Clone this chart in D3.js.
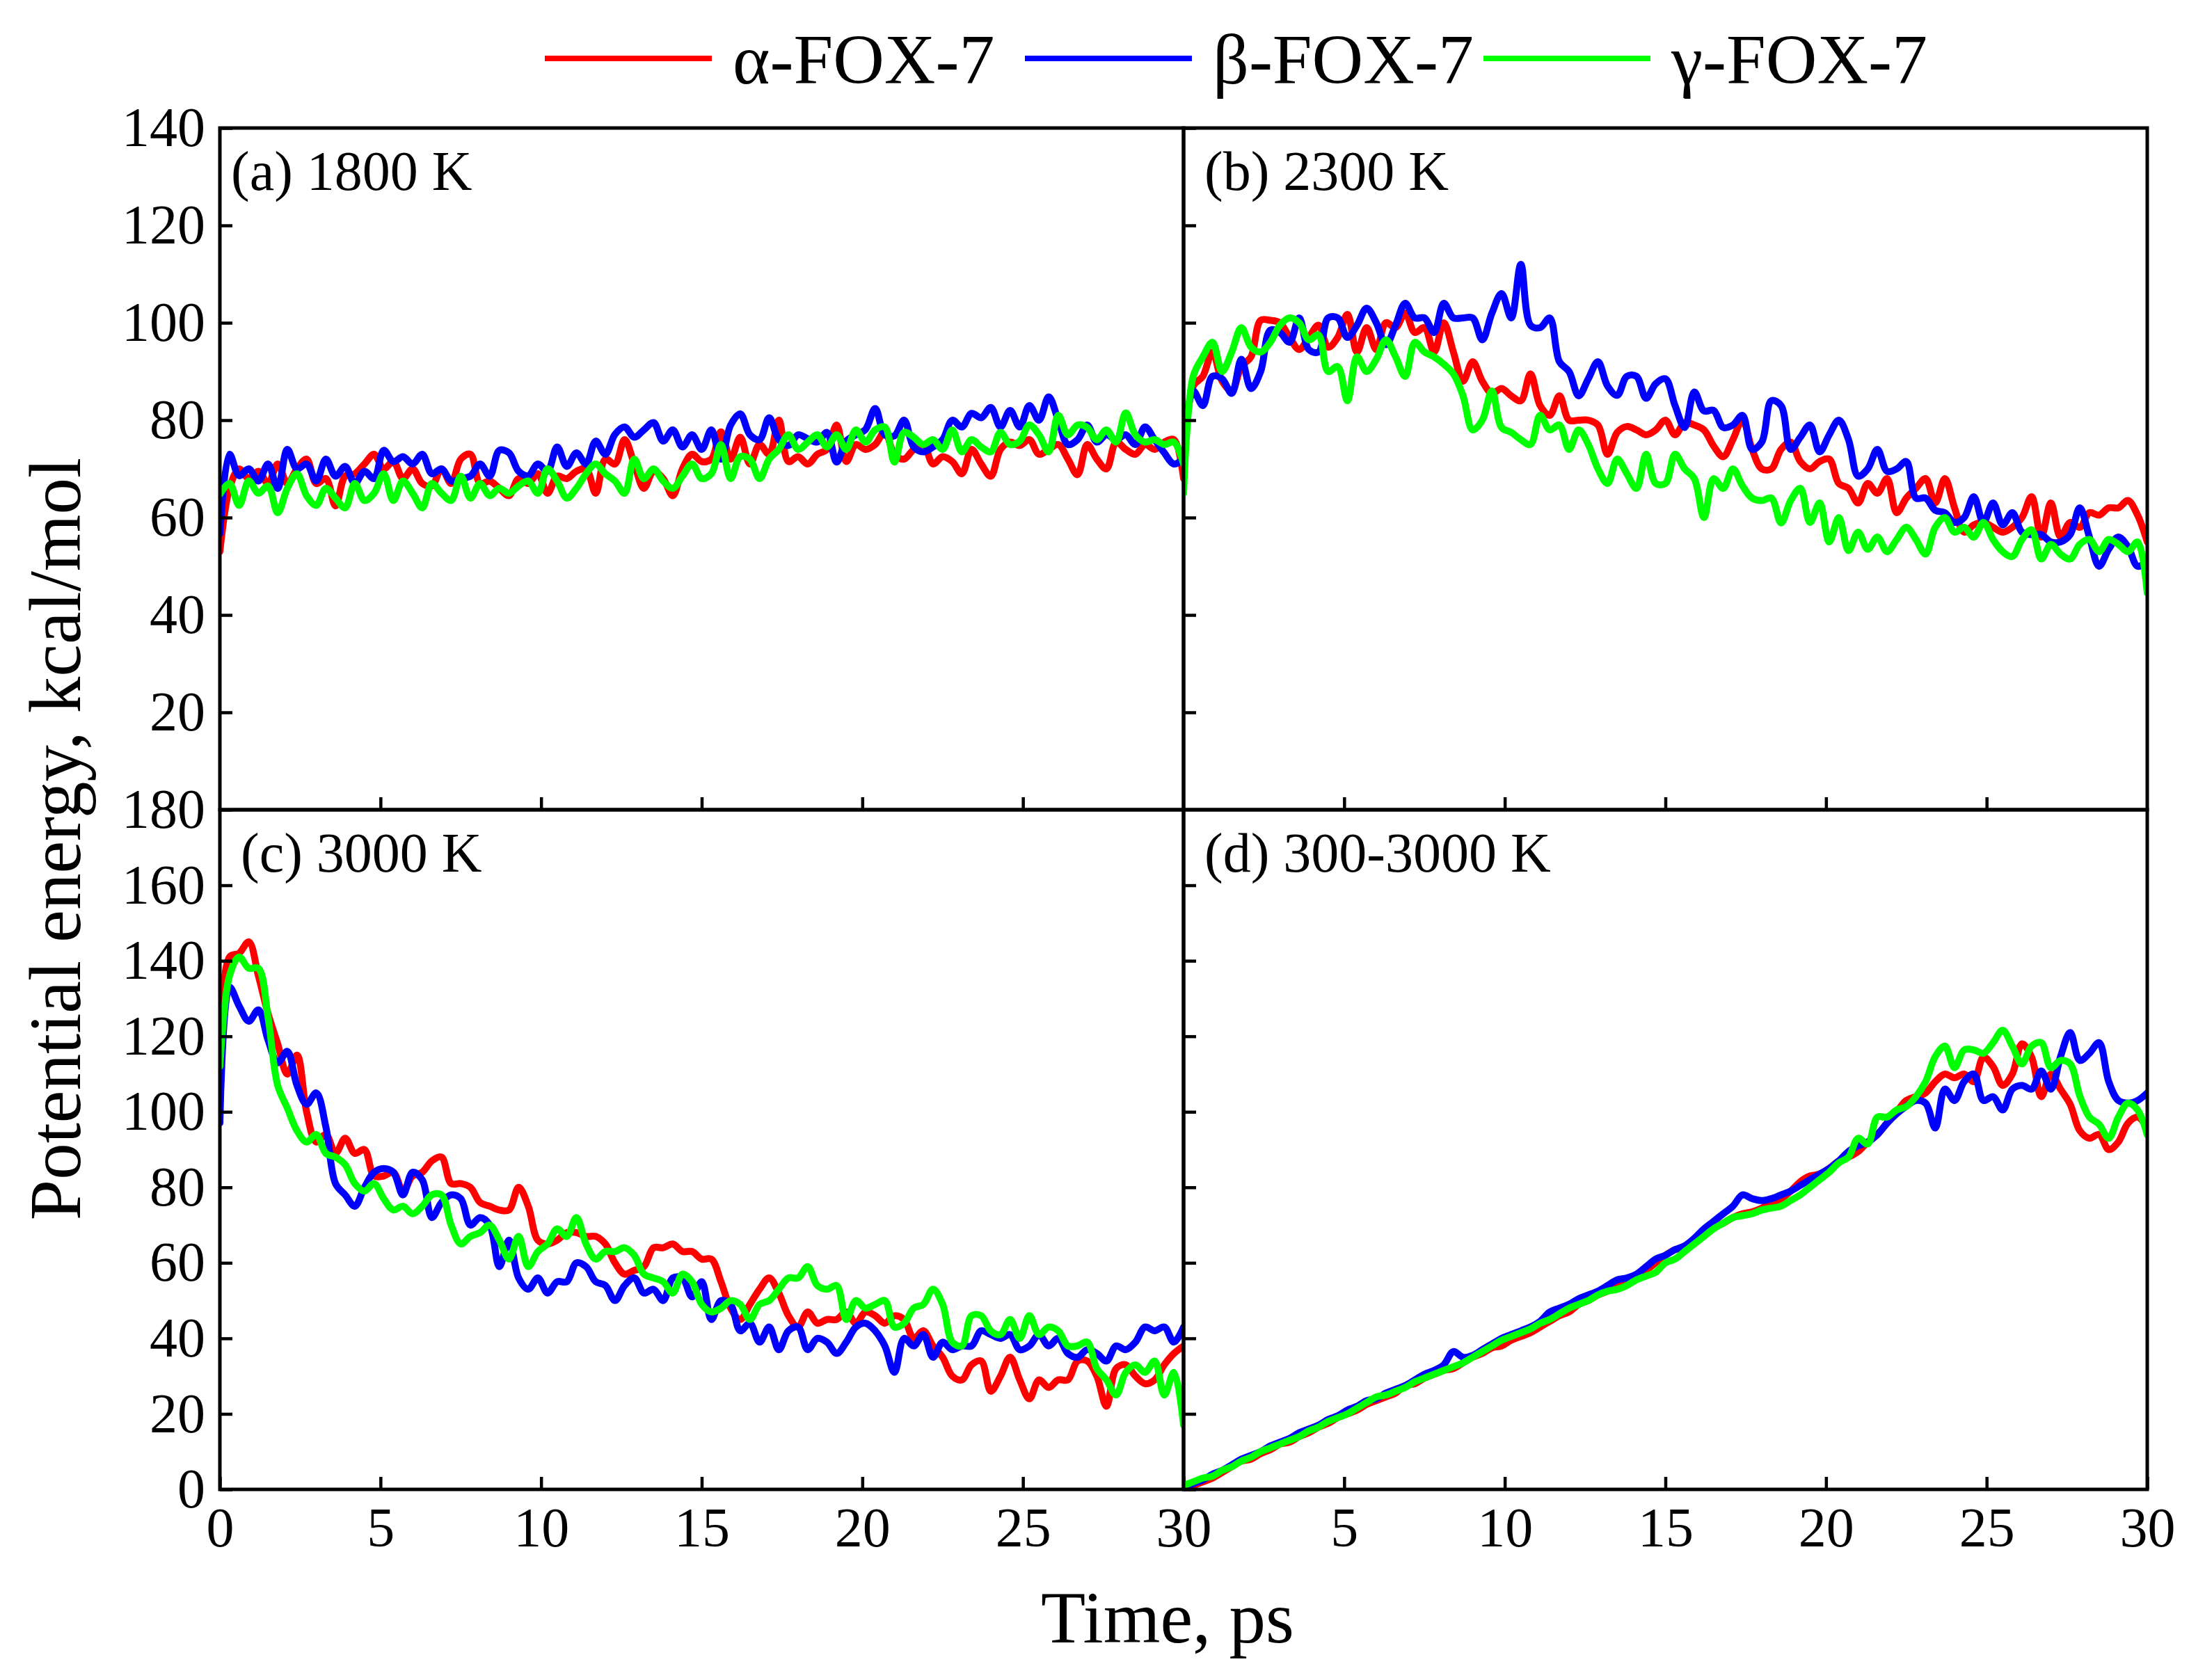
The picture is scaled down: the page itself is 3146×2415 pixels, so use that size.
<!DOCTYPE html>
<html><head><meta charset="utf-8">
<script src="https://cdn.jsdelivr.net/npm/d3@7"></script>
<style>
body{margin:0;background:#fff}
svg{display:block}
text{font-family:"Liberation Serif","Times New Roman",Times,serif;fill:#000}
</style>
</head><body>
<svg id="chart" width="3146" height="2415"></svg>
<script>
// ---------- data ----------
const seriesNames = ["α-FOX-7", "β-FOX-7", "γ-FOX-7"];
const panelLabels = ["(a) 1800 K", "(b) 2300 K", "(c) 3000 K", "(d) 300-3000 K"];
const timeStepPs = 0.3; // sampling of the read-off curves
const xTicks = [0, 5, 10, 15, 20, 25, 30];
const yTicksTop = [0, 20, 40, 60, 80, 100, 120, 140];
const yTicksBottom = [0, 20, 40, 60, 80, 100, 120, 140, 160, 180];

// (a) 1800 K
const a_alpha = [53,66,70,68,69.5,67,71,67,70,72, 67,68,62.4,68.5,69,71,73,70,71.5,68, 70,67,66.5,70,67,72,73,67,67.5,66, 64.5,68,67,69,65,68.5,68,69.5,70,65, 72,71,76,71,66,69.5,68,64.5,70,73, 71.5,72,77.6,72,76.5,71,75,73,80,71.5, 72.5,71,73,74,79,71.5,75,74,75,77.6, 73,72,74,75,71,72.5,71.5,69,74,71, 68.5,74,75.5,74.8,76,73,74,75,72,68.8, 75,72,70,75.5,74,73,75,74,75.5,76, 68];
const a_beta = [56.7,73,68.6,70,67.5,71,66,74,70,71, 67.5,72,68.5,70.5,67,69.5,68,73.8,71.5,72.5, 71,73,69,70,67.5,68,68.5,71,68.5,73.8, 73.3,69.5,68.6,71,69.5,74.5,70.5,73.3,71,75.7, 73,77.1,78.6,76.5,78,79.5,75.7,78,74.5,77, 74,78,72,79,81.3,77,76,80.5,76,74.8, 77,76.2,75.5,77.5,71.4,75.7,77,78.1,82.4,77, 76.8,80,74.5,73.5,74.5,76,80,78.6,81.4,80.5, 82.6,78.6,82,78.6,83,80,84.8,80,75,76, 79,75.5,77,76,77,75,78.6,76,73.3,71, 72];
const a_gamma = [64.8,67,62.5,67.5,65,66.5,61,66,69,64.5, 62.5,66,64,62,67,63.5,65,69,63.5,67.5, 65,62,67,65,63.5,68.5,64,67,64.5,66, 65,66.5,67.5,65,70,67.5,64,66,69,71, 69,67.5,65,72,68,70,67.5,66,68.5,71, 68,69,75,68,72.5,72,68,72,74,77, 74,75.5,77,74.5,77,74,78,75.5,78,78.6, 71.4,77.5,76.5,75,76,74,78,73.5,76,74.5, 73.5,77.5,75,75.7,79,77,73.5,81,77,79, 78.5,76,78,75.5,81.5,77,75.5,76,75,75.5, 71];

// (b) 2300 K
const b_alpha = [68.5,87,89,94,88,86,91,93,100.5,100.5, 100,97,94.5,97,99.5,95,97,101.7,94,99, 94.5,100,99,102,98,99,94,100,94,88, 92,88,85.5,86.5,85,84,89.5,83,81,85, 80,80,80,79,73,77.5,78.7,78,77,78, 80,77,79.5,79,78,74.7,72.5,76,80,74, 70,70,74,75.5,71.5,70,71.5,72,67,66, 63,67,65,68,61,64,66,68,63,68, 62,57,58.5,59,58,57,58,60,64.3,56, 63,56,59,58,61,60.5,62,62,63.5,60.5, 55];
const b_beta = [74,86,83,89,88.5,85.5,92.5,86.5,90,98.5, 98,96,101,94.5,94,101,101,97,99.5,103, 100,95.5,99.5,104,101,101,98,104,101,101, 101,96.5,102,106,101,112,99.5,99,101,92, 90,85,88.5,92,87,85.1,89,89,84.5,87.5, 88.5,83,78.5,85.8,81.9,82,78.5,79,81,74, 75.5,84,83,74,76.5,79,73.5,77,80,76, 68.5,70,74,69.5,70,71.5,64,64,61.5,61, 59,60,64.3,59,63,58.5,61,57,56.5,56.5, 55,55,56.5,62,56,50,53.5,56,54,50, 51];
const b_gamma = [65,89,93,96,90,94,99,95,94,96, 99.5,101,100,96.5,97.5,90,91,84,93,90, 92.5,96.5,93,89,96,94,93,91.5,89.5,85, 78,80,86,78.5,77.5,76,75,81,78,79, 74,78,75,70,67,72,69,66,73,67, 67,73,70,68,60,68,66,70,66.5,64, 63.5,64,58.9,63.5,66,59,63,55,60,53.2, 57,53.5,56,53,55.5,58,55.5,52.5,58,60, 57,58,56,59,55.5,53,52,55.5,57.5,51.5, 54.5,52.5,51.5,54.5,55.5,53,55.5,54.5,53,55, 44.5];

// (c) 3000 K
const c_alpha = [112,141,142,145,136,126,118,110,115,100, 92,94,89,93,89,90,83,83,84,79, 83,84,87,88,81,81,80,76,75,74, 74,80,75,66,65,66,68,68,67,67, 65,60,57,58,59,64,64,65,63,63, 61,61,55,48,45,49,53,56,52,46, 43,47,44,45,45,47,44,47,46,44, 46,45,40,42,38,35,30,29,33,34, 26,30,35,29,24,29,27,29,29,34, 34,30,22,32,33,30,28,29,33,36, 38];
const c_beta = [97,133,128,124,127,119,113,116,107,102, 105,96,81,78,75,80,84,85,84,78, 84,82,72,76,78,77,70,72,70,59, 66,56,53,56,52,55,55,60,59,55, 54,50,54,56,52,53,50,56,56,51, 55,45,50,49,42,44,39,43,37,42, 43,37,40,39,36,39,43,44,42,38, 31,40,38,41,35,39,37,38,38,42, 41,40,41,37,38,41,38,40,36,35, 37,36,34,38,37,39,43,42,43,39, 43];
const c_gamma = [112,136,141,138,138,125,107,101,95,92, 94,89,88,86,81,79,81,77,74,75, 73,75,78,78,70,65,67,68,70,66, 61,67,59,63,65,69,67,72,65,61, 63,63,64,62,57,56,55,52,57,55, 49,47,48,50,49,45,49,50,53,56, 56,59,54,53,54,45,50,48,49,50, 43,44,48,49,53,49,39,38,46,46, 42,41,45,40,46,41,43,42,38,38, 39,32,29,25,31,33,31,34,25,31, 17];

// (d) 300-3000 K
const d_alpha = [0,1,2,3,4.5,6,7.5,8,9.5,10.5, 12,12.5,14,15,16.5,17.5,19,20,21,22.5, 23.5,24.5,25.5,27.5,28,29.5,30.5,31.5,32,33.5, 35,36,37.5,38,39.5,40.5,41.5,43,44.5,46, 47,49,50,51.5,52.5,54,54.5,56,58,60, 62,63.5,64,65.5,68,69.5,70.5,72,73,73.5, 74.5,76,77,79,81.5,83,83.5,85,87,88, 89.5,92,94,97,100,103,104,105,108,110, 109,110,108,114.5,112,107,110,118,114.5,104, 110,106,102,95,93,94,90,92,97,98.6, 96];
const d_beta = [0,1.5,2.5,4,5,6.5,8,9,10,11.5, 12.5,13.5,15,16,17,18.5,19.5,21,22,23.5, 24,25.5,26.5,27.5,29,30.5,31.5,33,36.5,35, 35.5,37,38.5,40,41,42,43,44.5,47,48, 49,50.5,51.5,52.5,54,55.5,56,57,59,61, 62,63.5,64.5,66.5,69,71,73,75,78,77, 76.5,77,78,79,80.5,82,83.5,85,87,89.5, 91,92,94,97,99.5,101.5,103,102.3,95.7,106, 103,108,110,103,104,100.5,106,107,106,110.8, 106,114.6,121,113.6,115.5,118.3,108,103,102.3,103, 105];
const d_gamma = [1,2,3,3.5,5,6,7.5,8.5,10,11, 12,13,14,15.5,16.5,18,19,20,21.5,23, 24.5,25,26,27,28.5,29.5,30.5,31.5,32.5,33.5, 35,36.5,38,39.5,40.5,41.5,42.5,44,45,46.5, 48,49,50,51.5,52.5,53,54,55.5,56.5,57.5, 60,61,63,65,67,69,70.5,72,72.5,73, 74,74.5,75,76.5,78,80,82,84,86.5,88, 93,91.5,98.6,98.6,100.5,101.4,104,108,114.6,117.4, 111.7,116.4,116.4,115.5,118.3,121.6,117.4,112.7,117.4,118.3, 111.7,113.6,112.7,104.2,98.6,96.7,93,98.6,102.3,100.5, 93.9];

// ---------- layout ----------
const FONT = '"Liberation Serif","Times New Roman",Times,serif';
const colors = ["#ff0000", "#0000ff", "#00ff00"];
const L = 316, M = 1701, R = 3086, T = 184, MY = 1164, B = 2141;
const svg = d3.select("#chart");
svg.append("rect").attr("width", 3146).attr("height", 2415).attr("fill", "#fff");

const xLeft = d3.scaleLinear().domain([0, 30]).range([L, M]);
const xRight = d3.scaleLinear().domain([0, 30]).range([M, R]);
const yTop = d3.scaleLinear().domain([0, 140]).range([MY, T]);
const yBot = d3.scaleLinear().domain([0, 180]).range([B, MY]);

const panels = [
  {label: panelLabels[0], x: xLeft, y: yTop, data: [a_alpha, a_beta, a_gamma], yLab: true, xLab: false, yTicks: yTicksTop.filter(v => v > 0), xTicks: xTicks.filter(v => v > 0 && v < 30), ldx: 16},
  {label: panelLabels[1], x: xRight, y: yTop, data: [b_alpha, b_beta, b_gamma], yLab: false, xLab: false, yTicks: yTicksTop.filter(v => v > 0), xTicks: xTicks.filter(v => v > 0 && v < 30), ldx: 30},
  {label: panelLabels[2], x: xLeft, y: yBot, data: [c_alpha, c_beta, c_gamma], yLab: true, xLab: true, yTicks: yTicksBottom, xTicks: xTicks, ldx: 30},
  {label: panelLabels[3], x: xRight, y: yBot, data: [d_alpha, d_beta, d_gamma], yLab: false, xLab: true, yTicks: yTicksBottom.filter(v => v < 180), xTicks: xTicks.filter(v => v > 0), ldx: 30}
];

const defs = svg.append("defs");

panels.forEach((p, pi) => {
  const [x0, x1] = p.x.range();
  const [y1, y0] = p.y.range();
  const g = svg.append("g");

  defs.append("clipPath").attr("id", "clip" + pi)
    .append("rect").attr("x", x0).attr("y", y0).attr("width", x1 - x0).attr("height", y1 - y0);

  const line = d3.line()
    .x((d, i) => p.x(i * timeStepPs))
    .y(d => p.y(d))
    .curve(d3.curveCatmullRom.alpha(0.5));

  const lg = g.append("g").attr("clip-path", `url(#clip${pi})`);
  p.data.forEach((s, si) => {
    lg.append("path").datum(s)
      .attr("d", line)
      .attr("fill", "none")
      .attr("stroke", colors[si])
      .attr("stroke-width", 10)
      .attr("stroke-linejoin", "round")
      .attr("stroke-linecap", "round");
  });

  // y axis (inward ticks)
  const ya = d3.axisLeft(p.y).tickValues(p.yTicks).tickSizeInner(-18).tickSizeOuter(0).tickPadding(21)
    .tickFormat(p.yLab ? d3.format("d") : () => "");
  const yg = g.append("g").attr("transform", `translate(${x0},0)`).call(ya);
  yg.select(".domain").remove();
  yg.selectAll(".tick line").attr("stroke", "#000").attr("stroke-width", 4.5);
  yg.selectAll(".tick text").style("font-size", "80px").style("font-family", FONT);

  // x axis (inward ticks)
  const xa = d3.axisBottom(p.x).tickValues(p.xTicks).tickSizeInner(-18).tickSizeOuter(0).tickPadding(25)
    .tickFormat(p.xLab ? d3.format("d") : () => "");
  const xg = g.append("g").attr("transform", `translate(0,${y1})`).call(xa);
  xg.select(".domain").remove();
  xg.selectAll(".tick line").attr("stroke", "#000").attr("stroke-width", 4.5);
  xg.selectAll(".tick text").style("font-size", "80px").style("font-family", FONT);

  // frame
  g.append("rect").attr("x", x0).attr("y", y0).attr("width", x1 - x0).attr("height", y1 - y0)
    .attr("fill", "none").attr("stroke", "#000").attr("stroke-width", 5);

  // panel label
  g.append("text").attr("x", x0 + p.ldx).attr("y", y0 + 89)
    .style("font-family", FONT).style("font-size", "80px").text(p.label);
});

// axis titles
svg.append("text").attr("x", 1678).attr("y", 2361).attr("text-anchor", "middle")
  .style("font-family", FONT).style("font-size", "105px").text("Time, ps");
svg.append("text").attr("transform", "translate(115,1206) rotate(-90)").attr("text-anchor", "middle")
  .style("font-family", FONT).style("font-size", "105px").text("Potential energy, kcal/mol");

// legend
const legendLineX = [783, 1473, 2132];
const lgd = svg.append("g");
seriesNames.forEach((n, i) => {
  lgd.append("line").attr("x1", legendLineX[i]).attr("x2", legendLineX[i] + 240)
    .attr("y1", 84).attr("y2", 84).attr("stroke", colors[i]).attr("stroke-width", 8);
  lgd.append("text").attr("x", legendLineX[i] + 270).attr("y", 120)
    .style("font-family", FONT).style("font-size", "102px").text(n);
});
</script>
</body></html>
